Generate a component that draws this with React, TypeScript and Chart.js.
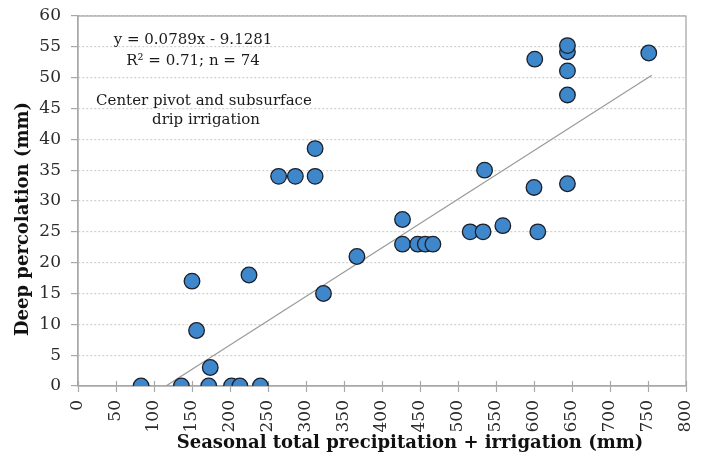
import React, { useEffect, useRef } from "react";
import { Chart, registerables } from "chart.js";

Chart.register(...registerables);

// Seasonal total precipitation + irrigation (mm)
const xValues = [83, 136, 150, 156, 172, 174, 202, 213, 225, 240, 264, 286, 312, 312, 323, 367, 427, 427, 447, 457, 467, 516, 533, 559, 535, 600, 601, 605, 644, 644, 644, 644, 644, 751];
// Deep percolation (mm)
const yValues = [0, 0, 17, 9, 0, 3, 0, 0, 18, 0, 34, 34, 34, 38.5, 15, 21, 27, 23, 23, 23, 23, 25, 25, 26, 35, 32.2, 53, 25, 54.2, 55.2, 51.1, 47.2, 32.8, 54];

// Trend line endpoints
const trendX = [115.7, 755];
const trendY = [0, 50.4];

const equationLines = ["y = 0.0789x - 9.1281", "R² = 0.71; n = 74"];
const noteLines = ["Center pivot and subsurface", "drip irrigation"];
const xTitle = "Seasonal total precipitation + irrigation (mm)";
const yTitle = "Deep percolation (mm)";

const FONT = "'DejaVu Serif', 'Liberation Serif', serif";

const textPlugin = {
  id: "texts",
  beforeDatasetsDraw(chart: any) {
    const { ctx, chartArea } = chart;
    ctx.save();
    ctx.strokeStyle = "#a8a8a8";
    ctx.lineWidth = 1.3;
    ctx.strokeRect(chartArea.left, chartArea.top, chartArea.right - chartArea.left, chartArea.bottom - chartArea.top);
    // inner half of the cross tick marks on the x axis
    const xs = chart.scales.x;
    ctx.lineWidth = 1.2;
    ctx.beginPath();
    xs.ticks.forEach((t: any) => {
      const px = Math.round(xs.getPixelForValue(t.value)) + 0.5;
      ctx.moveTo(px, chartArea.bottom - 5);
      ctx.lineTo(px, chartArea.bottom);
    });
    ctx.stroke();
    ctx.restore();
  },
  afterDraw(chart: any) {
    const { ctx } = chart;
    ctx.save();
    ctx.fillStyle = "#1a1a1a";
    ctx.textAlign = "center";
    ctx.textBaseline = "middle";
    ctx.font = `15px ${FONT}`;
    ctx.fillText(equationLines[0], 193, 40);
    ctx.fillText(equationLines[1], 193, 61);
    ctx.fillText(noteLines[0], 204, 101);
    ctx.fillText(noteLines[1], 206, 120);

    ctx.fillStyle = "#111";
    ctx.font = `bold 18px ${FONT}`;
    ctx.fillText(xTitle, 410, 443);
    ctx.translate(23, 219);
    ctx.rotate(-Math.PI / 2);
    ctx.fillText(yTitle, 0, 0);
    ctx.restore();
  },
};

export default function App() {
  const ref = useRef<HTMLCanvasElement | null>(null);

  useEffect(() => {
    if (!ref.current) return;
    const points = xValues.map((x, i) => ({ x, y: yValues[i] }));
    const trend = trendX.map((x, i) => ({ x, y: trendY[i] }));
    const chart = new Chart(ref.current, {
      type: "scatter",
      data: {
        datasets: [
          {
            type: "line",
            data: trend,
            borderColor: "#9a9a9a",
            borderWidth: 1.2,
            pointRadius: 0,
            fill: false,
            order: 2,
          } as any,
          {
            data: points,
            backgroundColor: "#3f87cb",
            borderColor: "#1b1f2a",
            borderWidth: 1.3,
            pointRadius: 7.8,
            pointHoverRadius: 7.8,
            order: 1,
          },
        ],
      },
      options: {
        responsive: false,
        animation: false,
        layout: { padding: { left: 0, top: 16, right: 21, bottom: 0 } },
        plugins: {
          legend: { display: false },
          tooltip: { enabled: false },
        },
        scales: {
          x: {
            type: "linear",
            min: 0,
            max: 800,
            afterFit: (s: any) => {
              s.height = 71;
              s.paddingLeft = 0;
              s.paddingRight = 0;
            },
            ticks: {
              stepSize: 50,
              minRotation: 90,
              maxRotation: 90,
              padding: 8,
              color: "#2a2a2a",
              font: { family: FONT, size: 17 },
            },
            grid: {
              drawOnChartArea: false,
              drawTicks: true,
              tickLength: 6,
              tickColor: "#a8a8a8",
              tickWidth: 1.2,
            },
            border: { color: "#a8a8a8", width: 1.3 },
          },
          y: {
            type: "linear",
            min: 0,
            max: 60,
            afterFit: (s: any) => {
              s.width = 78;
              s.paddingTop = 0;
              s.paddingBottom = 0;
            },
            ticks: {
              stepSize: 5,
              padding: 10,
              color: "#2a2a2a",
              font: { family: FONT, size: 17 },
            },
            grid: {
              color: "#cfcfcf",
              lineWidth: 1.2,
              tickLength: 7,
              tickColor: "#a8a8a8",
              tickBorderDash: [],
            },
            border: { color: "#a8a8a8", width: 1.3, dash: [2, 2] },
          },
        },
      },
      plugins: [textPlugin],
    });
    return () => chart.destroy();
  }, []);

  return (
    <div style={{ position: "absolute", left: 0, top: 0, width: 707, height: 457, background: "#fff" }}>
      <canvas ref={ref} width={707} height={457} style={{ width: 707, height: 457, display: "block" }} />
    </div>
  );
}
